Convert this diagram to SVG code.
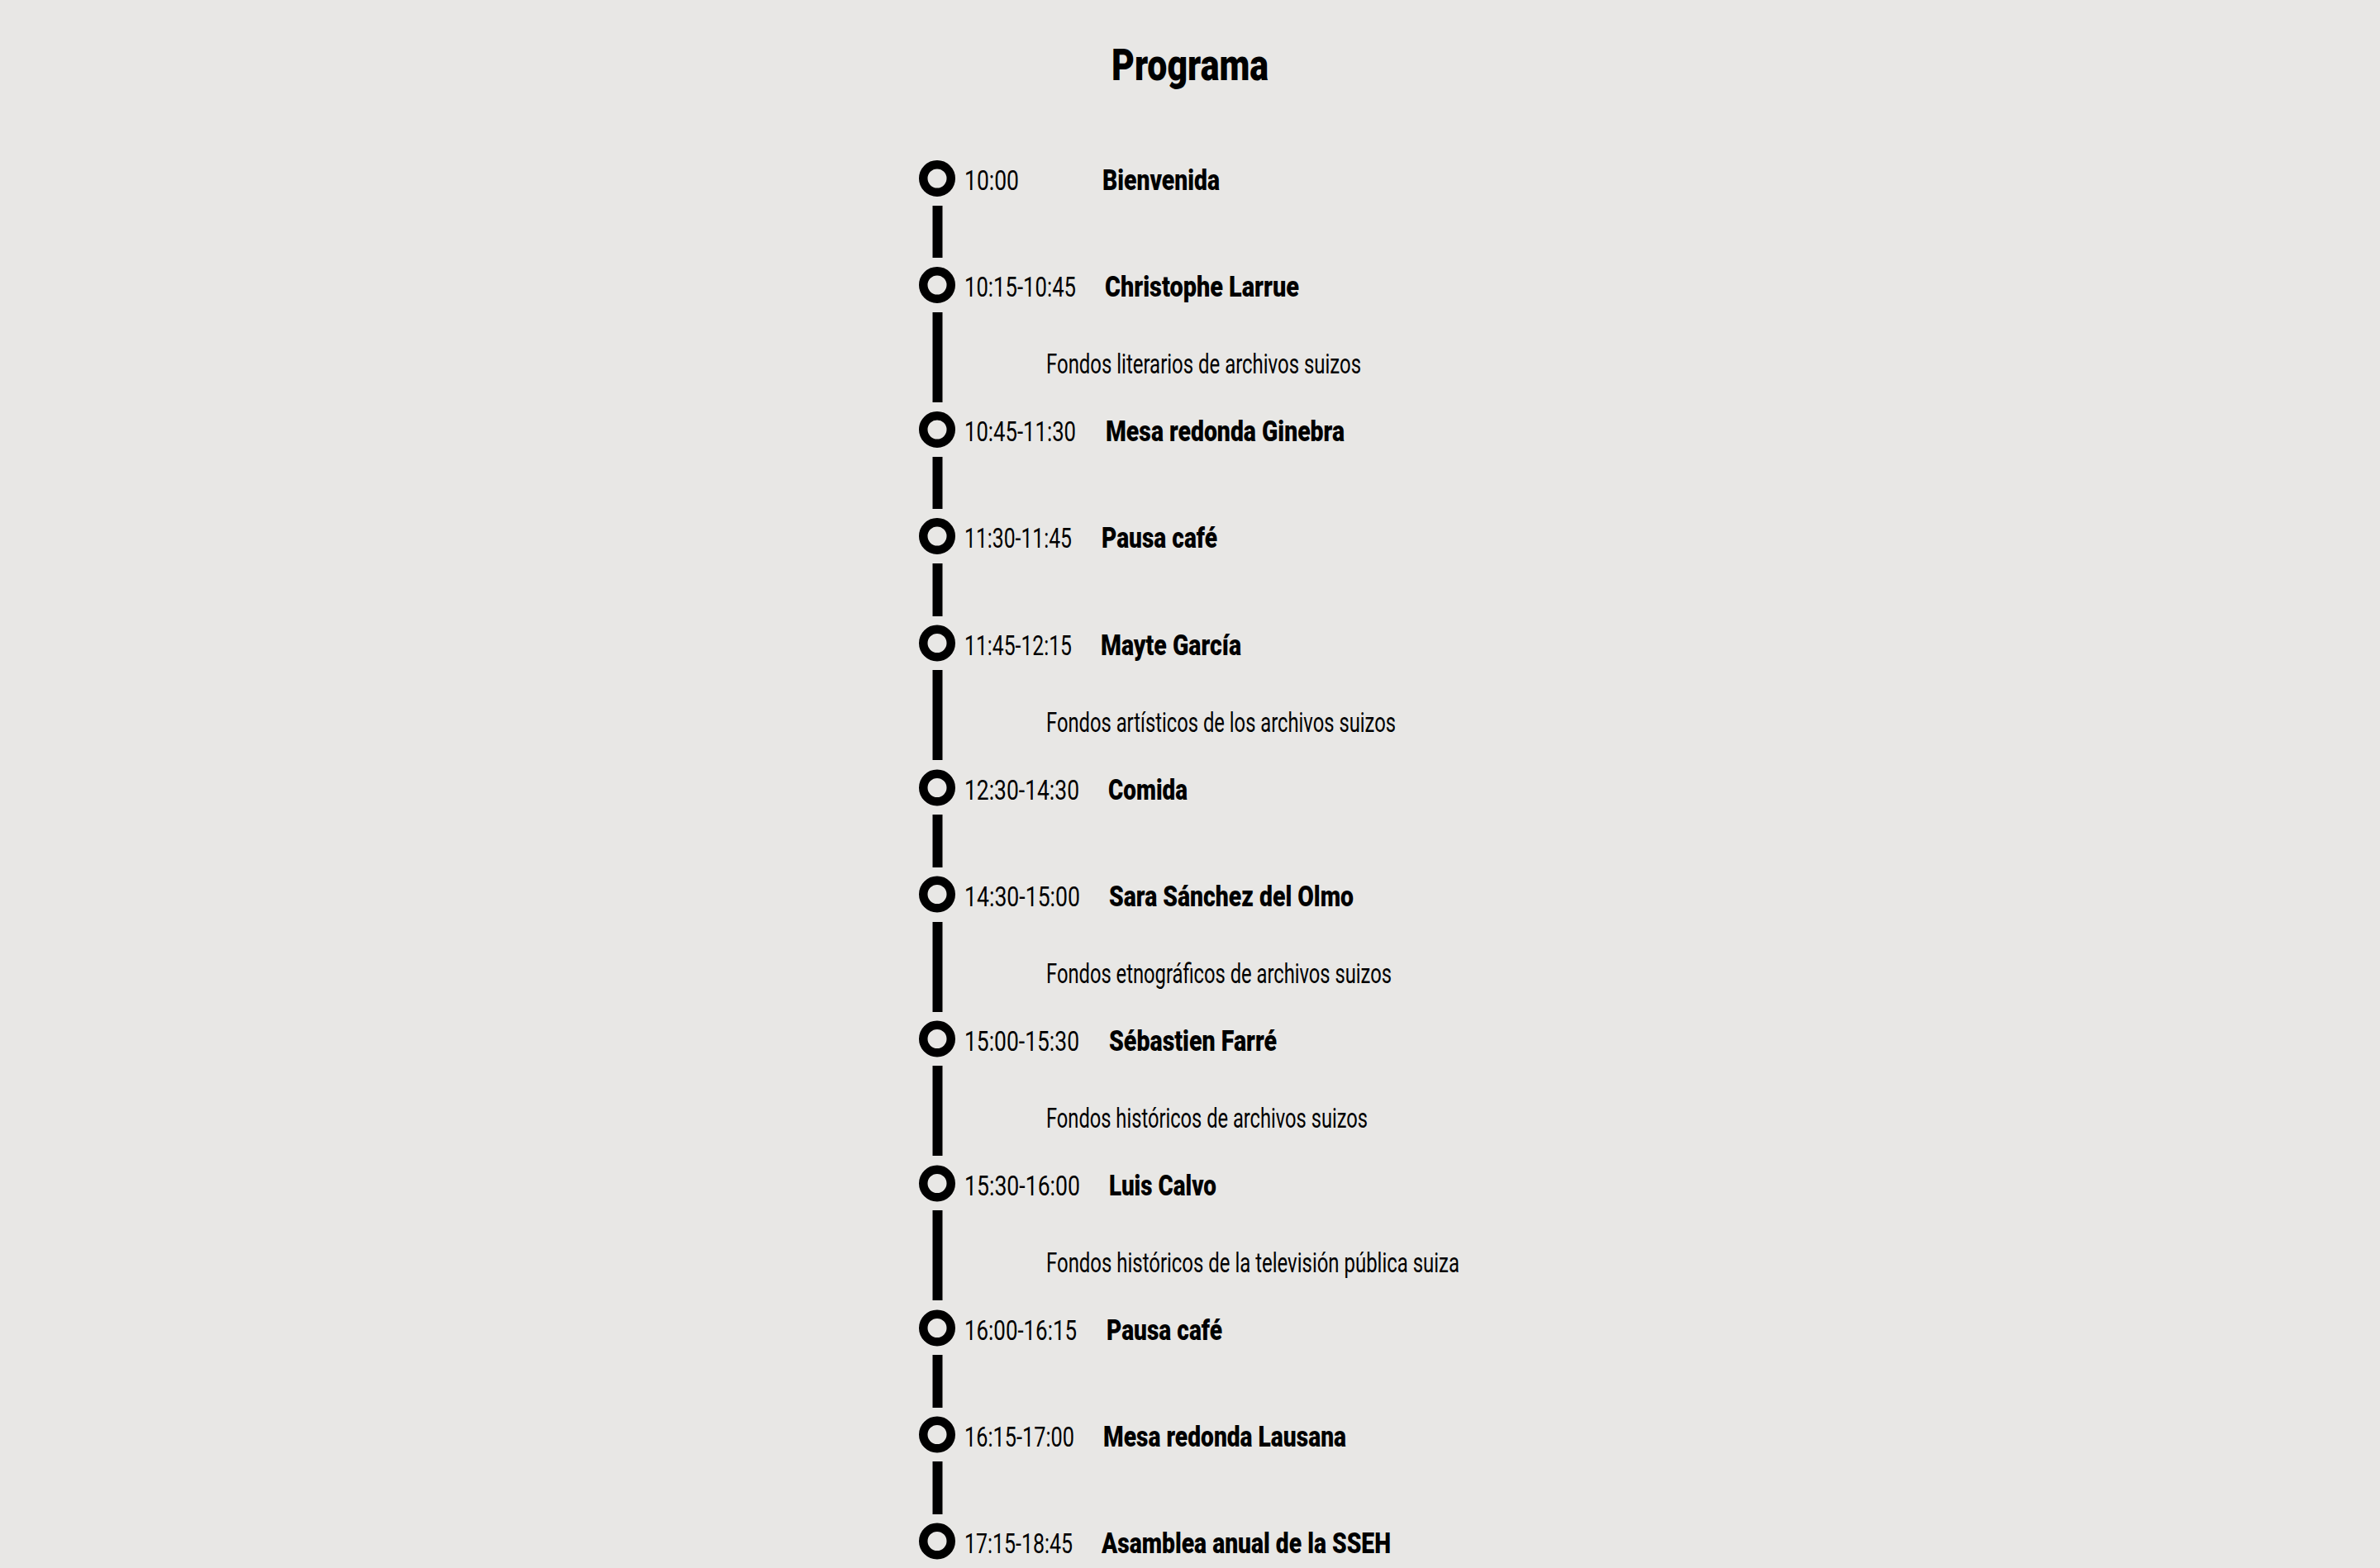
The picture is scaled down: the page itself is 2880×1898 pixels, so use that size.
<svg xmlns="http://www.w3.org/2000/svg" width="2880" height="1898" viewBox="0 0 2880 1898">
<style>
.bg{fill:#e8e7e5}
.dot{fill:none;stroke:#000;stroke-width:10.5}
.bar{fill:#000}
.t{font-family:Roboto,"Liberation Sans Narrow","DejaVu Sans Condensed",sans-serif;fill:#000}
.time{font-size:33px;font-weight:400}
.name{font-size:35px;font-weight:900}
.sub{font-size:33px;font-weight:400}
.title{font-size:53px;font-weight:900}
</style>
<rect class="bg" x="0" y="0" width="2880" height="1898"/>
<text class="t title" x="1440" y="97" text-anchor="middle" textLength="190" lengthAdjust="spacingAndGlyphs">Programa</text>
<g id="connectors">
<rect class="bar" x="1128.5" y="249" width="12" height="63"/>
<rect class="bar" x="1128.5" y="378" width="12" height="109"/>
<rect class="bar" x="1128.5" y="553" width="12" height="63"/>
<rect class="bar" x="1128.5" y="682" width="12" height="64"/>
<rect class="bar" x="1128.5" y="811" width="12" height="109"/>
<rect class="bar" x="1128.5" y="986" width="12" height="64"/>
<rect class="bar" x="1128.5" y="1116" width="12" height="109"/>
<rect class="bar" x="1128.5" y="1290" width="12" height="109"/>
<rect class="bar" x="1128.5" y="1465" width="12" height="109"/>
<rect class="bar" x="1128.5" y="1640" width="12" height="64"/>
<rect class="bar" x="1128.5" y="1769" width="12" height="64"/>
</g>
<g id="n1">
<circle class="dot" cx="1134" cy="216" r="16.75"/>
<text class="t time" x="1167" y="230" textLength="66" lengthAdjust="spacingAndGlyphs">10:00</text>
<text class="t name" x="1334" y="230" textLength="142" lengthAdjust="spacingAndGlyphs">Bienvenida</text>
</g>
<g id="n2">
<circle class="dot" cx="1134" cy="345" r="16.75"/>
<text class="t time" x="1167" y="359" textLength="135" lengthAdjust="spacingAndGlyphs">10:15-10:45</text>
<text class="t name" x="1337" y="359" textLength="235" lengthAdjust="spacingAndGlyphs">Christophe Larrue</text>
<text class="t sub" x="1266" y="452" textLength="381" lengthAdjust="spacingAndGlyphs">Fondos literarios de archivos suizos</text>
</g>
<g id="n3">
<circle class="dot" cx="1134" cy="520" r="16.75"/>
<text class="t time" x="1167" y="534" textLength="135" lengthAdjust="spacingAndGlyphs">10:45-11:30</text>
<text class="t name" x="1338" y="534" textLength="289" lengthAdjust="spacingAndGlyphs">Mesa redonda Ginebra</text>
</g>
<g id="n4">
<circle class="dot" cx="1134" cy="649" r="16.75"/>
<text class="t time" x="1167" y="663" textLength="130" lengthAdjust="spacingAndGlyphs">11:30-11:45</text>
<text class="t name" x="1333" y="663" textLength="140" lengthAdjust="spacingAndGlyphs">Pausa café</text>
</g>
<g id="n5">
<circle class="dot" cx="1134" cy="778.5" r="16.75"/>
<text class="t time" x="1167" y="792.5" textLength="130" lengthAdjust="spacingAndGlyphs">11:45-12:15</text>
<text class="t name" x="1332" y="792.5" textLength="170" lengthAdjust="spacingAndGlyphs">Mayte García</text>
<text class="t sub" x="1266" y="885.5" textLength="423" lengthAdjust="spacingAndGlyphs">Fondos artísticos de los archivos suizos</text>
</g>
<g id="n6">
<circle class="dot" cx="1134" cy="953.5" r="16.75"/>
<text class="t time" x="1167" y="967.5" textLength="139" lengthAdjust="spacingAndGlyphs">12:30-14:30</text>
<text class="t name" x="1341" y="967.5" textLength="96" lengthAdjust="spacingAndGlyphs">Comida</text>
</g>
<g id="n7">
<circle class="dot" cx="1134" cy="1082.5" r="16.75"/>
<text class="t time" x="1167" y="1096.5" textLength="140" lengthAdjust="spacingAndGlyphs">14:30-15:00</text>
<text class="t name" x="1342" y="1096.5" textLength="296" lengthAdjust="spacingAndGlyphs">Sara Sánchez del Olmo</text>
<text class="t sub" x="1266" y="1189.5" textLength="418" lengthAdjust="spacingAndGlyphs">Fondos etnográficos de archivos suizos</text>
</g>
<g id="n8">
<circle class="dot" cx="1134" cy="1257.5" r="16.75"/>
<text class="t time" x="1167" y="1271.5" textLength="139" lengthAdjust="spacingAndGlyphs">15:00-15:30</text>
<text class="t name" x="1342" y="1271.5" textLength="203" lengthAdjust="spacingAndGlyphs">Sébastien Farré</text>
<text class="t sub" x="1266" y="1364.5" textLength="389" lengthAdjust="spacingAndGlyphs">Fondos históricos de archivos suizos</text>
</g>
<g id="n9">
<circle class="dot" cx="1134" cy="1432.5" r="16.75"/>
<text class="t time" x="1167" y="1446.5" textLength="140" lengthAdjust="spacingAndGlyphs">15:30-16:00</text>
<text class="t name" x="1342" y="1446.5" textLength="130" lengthAdjust="spacingAndGlyphs">Luis Calvo</text>
<text class="t sub" x="1266" y="1539.5" textLength="500" lengthAdjust="spacingAndGlyphs">Fondos históricos de la televisión pública suiza</text>
</g>
<g id="n10">
<circle class="dot" cx="1134" cy="1607.5" r="16.75"/>
<text class="t time" x="1167" y="1621.5" textLength="136" lengthAdjust="spacingAndGlyphs">16:00-16:15</text>
<text class="t name" x="1339" y="1621.5" textLength="140" lengthAdjust="spacingAndGlyphs">Pausa café</text>
</g>
<g id="n11">
<circle class="dot" cx="1134" cy="1736.5" r="16.75"/>
<text class="t time" x="1167" y="1750.5" textLength="133" lengthAdjust="spacingAndGlyphs">16:15-17:00</text>
<text class="t name" x="1335" y="1750.5" textLength="294" lengthAdjust="spacingAndGlyphs">Mesa redonda Lausana</text>
</g>
<g id="n12">
<circle class="dot" cx="1134" cy="1865.5" r="16.75"/>
<text class="t time" x="1167" y="1879.5" textLength="131" lengthAdjust="spacingAndGlyphs">17:15-18:45</text>
<text class="t name" x="1333" y="1879.5" textLength="350" lengthAdjust="spacingAndGlyphs">Asamblea anual de la SSEH</text>
</g>
</svg>
